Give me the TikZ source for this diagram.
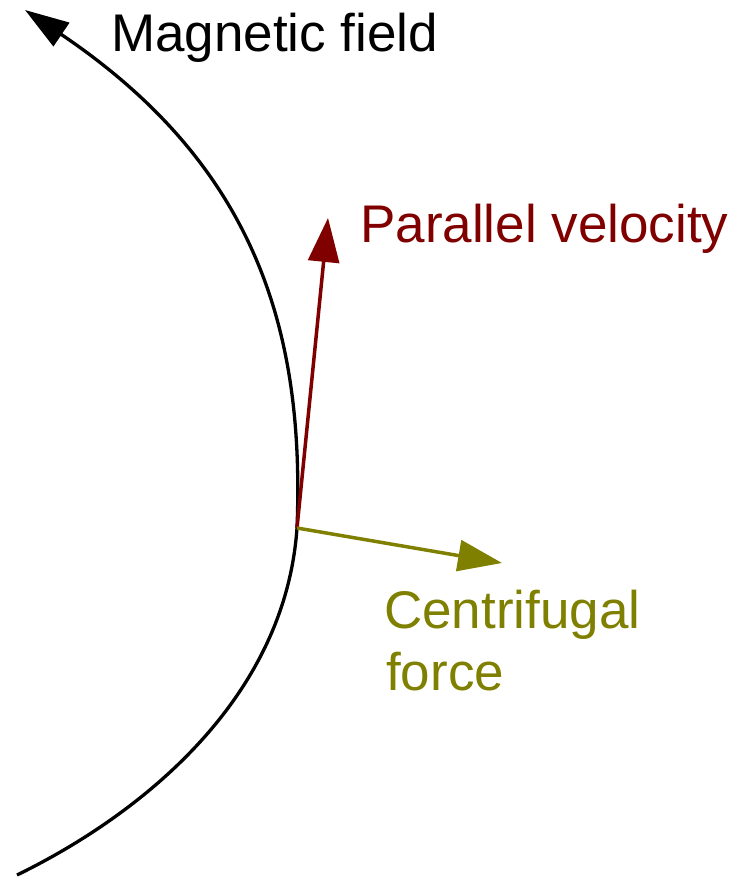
\documentclass[tikz,border=0pt]{standalone}
\usepackage{fontspec}
\setmainfont{Liberation Sans}
\usetikzlibrary{arrows.meta}
\definecolor{maroonc}{HTML}{800000}
\definecolor{olivec}{HTML}{808000}
\tikzset{
  lbl/.style={anchor=base west, inner sep=0pt, font=\fontsize{53}{62}\selectfont},
  vec/.style={line width=3.5pt, -{Triangle[length=44pt,width=31pt]}},
}
\begin{document}
\begin{tikzpicture}[x=1pt,y=-1pt]
\useasboundingbox (0,0) rectangle (743,877);
\coordinate (S) at (17,875);
\coordinate (O) at (297,528);
\coordinate (E) at (25,10);
\coordinate (V) at (328,218);
\coordinate (F) at (502,563);
% field line
\draw[line width=3.3pt, -{Triangle[length=44pt,width=28pt]}]
  (S) .. controls (140,815) and (285,700) .. (O)
      .. controls (305,330) and (255,165) .. (E);
\draw[vec, maroonc] (O) -- (V);
\draw[vec, olivec] (O) -- (F);
\node[lbl] (mf) at (111,52) {Magnetic field};
\node[lbl, text=maroonc] (pv) at (360,243) {Parallel velocity};
\node[lbl, text=olivec] (cf) at (384,628) {Centrifugal};
\node[lbl, text=olivec] (cf2) at (386,690) {force};
\end{tikzpicture}
\end{document}
